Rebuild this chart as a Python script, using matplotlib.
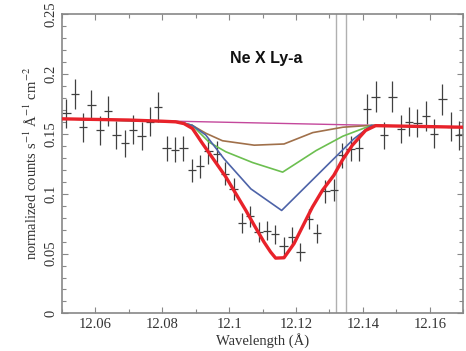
import matplotlib
matplotlib.use("Agg")
import matplotlib.pyplot as plt
from matplotlib.ticker import MultipleLocator

plt.rcParams["font.family"] = ["Liberation Serif", "DejaVu Serif"]
plt.rcParams["mathtext.fontset"] = "stix"

# observed spectrum (binned)
wave = [12.0513, 12.0538, 12.0563, 12.0588, 12.0613, 12.0638, 12.0663, 12.0688,
        12.0713, 12.0738, 12.0763, 12.0788, 12.0813, 12.0838, 12.0863, 12.0888,
        12.0913, 12.0938, 12.0963, 12.0988, 12.1013, 12.1038, 12.1063, 12.1088,
        12.1113, 12.1138, 12.1163, 12.1188, 12.1213, 12.1238, 12.1263, 12.1288,
        12.1313, 12.1338, 12.1363, 12.1388, 12.1413, 12.1438, 12.1463, 12.1488,
        12.1513, 12.1538, 12.1563, 12.1588, 12.1613, 12.1638, 12.1663, 12.1688]
counts = [0.167, 0.183, 0.1555, 0.174, 0.153, 0.169, 0.149, 0.142,
          0.1535, 0.148, 0.160, 0.172, 0.138, 0.1367, 0.138, 0.1194,
          0.1228, 0.1355, 0.1333, 0.1167, 0.104, 0.0755, 0.081, 0.068,
          0.069, 0.066, 0.056, 0.064, 0.051, 0.079, 0.067, 0.102,
          0.103, 0.132, 0.1375, 0.138, 0.171, 0.181, 0.1486, 0.181,
          0.154, 0.160, 0.159, 0.165, 0.150, 0.179, 0.156, 0.1486]
errs = [0.012, 0.0125, 0.012, 0.0125, 0.012, 0.0125, 0.012, 0.0115,
        0.012, 0.0115, 0.012, 0.0125, 0.0105, 0.0105, 0.0105, 0.0098,
        0.0098, 0.0105, 0.0105, 0.0095, 0.009, 0.0085, 0.0085, 0.008,
        0.008, 0.008, 0.0075, 0.008, 0.0075, 0.0085, 0.008, 0.0095,
        0.0095, 0.0105, 0.0105, 0.0105, 0.0125, 0.013, 0.0115, 0.013,
        0.012, 0.012, 0.012, 0.0125, 0.012, 0.013, 0.012, 0.012]
bin_half = 0.00125

# continuum
cont_w = [12.05, 12.17]
cont_v = [0.1625, 0.1555]

# absorption models
brown_w = [12.05, 12.085, 12.089, 12.093, 12.098, 12.1075, 12.1164, 12.125, 12.134, 12.141, 12.17]
brown_v = [0.1625, 0.160, 0.157, 0.1505, 0.1442, 0.1405, 0.1415, 0.151, 0.1555, 0.1568, 0.1555]

green_w = [12.05, 12.085, 12.089, 12.094, 12.099, 12.107, 12.116, 12.126, 12.134, 12.1425, 12.17]
green_v = [0.1625, 0.160, 0.157, 0.143, 0.1350, 0.126, 0.118, 0.136, 0.148, 0.157, 0.1555]

blue_w = [12.05, 12.085, 12.089, 12.093, 12.0985, 12.1065, 12.1157, 12.1373, 12.1425, 12.17]
blue_v = [0.1625, 0.160, 0.157, 0.149, 0.129, 0.104, 0.086, 0.1458, 0.157, 0.1555]

red_w = [12.05, 12.07, 12.080, 12.084, 12.0865, 12.089, 12.092, 12.0955, 12.099,
         12.102, 12.105, 12.1075, 12.1104, 12.1124, 12.1139, 12.1164, 12.1194,
         12.1224, 12.1249, 12.1279, 12.1313, 12.1338, 12.1368, 12.1408, 12.1438, 12.17]
red_v = [0.1625, 0.1615, 0.1605, 0.160, 0.1585, 0.1545, 0.142, 0.128, 0.114,
         0.100, 0.086, 0.0736, 0.0597, 0.0513, 0.0462, 0.0465, 0.0583,
         0.075, 0.0888, 0.1028, 0.1153, 0.1278, 0.1403, 0.1528, 0.1568, 0.1555]

vlines = [12.132, 12.135]

fig = plt.figure(figsize=(4.66, 3.51), dpi=100)
ax = fig.add_axes([0.133, 0.107, 0.861, 0.853])

for v in vlines:
    ax.axvline(v, color="#b0b0b0", lw=1.0, zorder=1)

ax.errorbar(wave, counts, yerr=errs, xerr=bin_half, fmt="none",
            ecolor="#404040", elinewidth=0.9, capsize=0, zorder=2)

ax.plot(cont_w, cont_v, color="#c4489c", lw=1.0, zorder=3)
ax.plot(brown_w, brown_v, color="#a0704a", lw=1.2, zorder=4)
ax.plot(green_w, green_v, color="#6cbf50", lw=1.2, zorder=4)
ax.plot(blue_w, blue_v, color="#4d63a8", lw=1.2, zorder=4)
ax.plot(red_w, red_v, color="#e8222a", lw=2.4, zorder=5)

ax.text(12.111, 0.2125, "Ne X Ly-a", family=["Liberation Sans", "DejaVu Sans"],
        fontweight="bold", fontsize=11.5, ha="center", va="center", color="#111111")

ax.set_xlim(12.05, 12.17)
ax.set_ylim(0, 0.25)
ax.set_xticks([12.06, 12.08, 12.10, 12.12, 12.14, 12.16])
ax.set_xticklabels(["12.06", "12.08", "12.1", "12.12", "12.14", "12.16"])
ax.set_yticks([0, 0.05, 0.1, 0.15, 0.2, 0.25])
ax.set_yticklabels(["0", "0.05", "0.1", "0.15", "0.2", "0.25"], rotation=90, va="center")
ax.xaxis.set_minor_locator(MultipleLocator(0.01))
ax.yaxis.set_minor_locator(MultipleLocator(0.01))
ax.tick_params(which="both", direction="in", top=True, right=True,
               color="#888888", labelsize=10.5, labelcolor="#333333")
ax.tick_params(which="major", length=4, width=0.8)
ax.tick_params(which="minor", length=3, width=0.8)
for s in ax.spines.values():
    s.set_color("#888888")
    s.set_linewidth(1.2)

ax.set_xlabel("Wavelength (Å)", fontsize=10.5, color="#333333", labelpad=1)
ax.set_ylabel("normalized counts s$^{-1}$ Å$^{-1}$ cm$^{-2}$", fontsize=10.5,
              color="#333333", labelpad=3)

fig.savefig("out.png", dpi=100)
